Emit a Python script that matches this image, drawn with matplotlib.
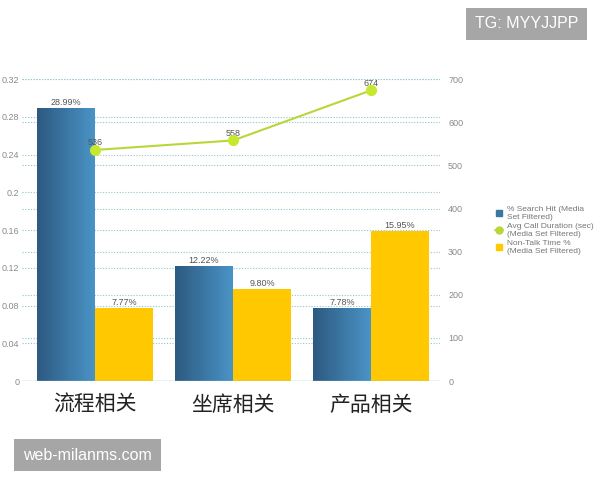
import matplotlib
matplotlib.use("Agg")
import matplotlib.pyplot as plt
import numpy as np

plt.rcParams['font.family'] = ['Liberation Sans', 'Noto Sans CJK SC', 'DejaVu Sans']

categories = ['流程相关', '坐席相关', '产品相关']
search_hit = [0.2899, 0.1222, 0.0778]
non_talk = [0.0777, 0.0980, 0.1595]
call_duration = [536, 558, 674]
left_ticks = [0, 0.04, 0.08, 0.12, 0.16, 0.2, 0.24, 0.28, 0.32]
left_labels = ['0', '0.04', '0.08', '0.12', '0.16', '0.2', '0.24', '0.28', '0.32']
right_ticks = [0, 100, 200, 300, 400, 500, 600, 700]
legend_labels = ['% Search Hit (Media\nSet Filtered)',
                 'Avg Call Duration (sec)\n(Media Set Filtered)',
                 'Non-Talk Time %\n(Media Set Filtered)']

fig = plt.figure(figsize=(6, 4.8), dpi=100)
ax = fig.add_axes([0.037, 0.206, 0.696, 0.629])
ax2 = ax.twinx()

x = np.arange(len(categories))
w = 0.42
grid_col = '#8fc7cf'
tick_col = '#8a8a8a'

blue_bars = ax.bar(x - w / 2, search_hit, w, color='#3b76a3', zorder=2)
yellow_bars = ax.bar(x + w / 2, non_talk, w, color='#ffc800', zorder=2)

# gradient on blue bars
grad = np.linspace(0, 1, 64).reshape(1, -1)
cmap = matplotlib.colors.LinearSegmentedColormap.from_list('b', ['#2d5a80', '#4a93c6'])
for b in blue_bars:
    x0, y0 = b.get_x(), b.get_y()
    im = ax.imshow(grad, extent=[x0, x0 + b.get_width(), y0, y0 + b.get_height()],
                   cmap=cmap, aspect='auto', zorder=2.1)
    im.set_clip_path(b)

for b, v in zip(blue_bars, search_hit):
    ax.text(b.get_x() + b.get_width() / 2, v + 0.001, f'{v*100:.2f}%',
            ha='center', va='bottom', fontsize=6.5, color='#555555', zorder=5)
for b, v in zip(yellow_bars, non_talk):
    ax.text(b.get_x() + b.get_width() / 2, v + 0.001, f'{v*100:.2f}%',
            ha='center', va='bottom', fontsize=6.5, color='#555555', zorder=5)

ax.set_xlim(-0.53, 2.5)
ax.set_ylim(0, 0.32)
ax.set_yticks(left_ticks)
ax.set_yticklabels(left_labels)
ax2.set_ylim(0, 700)
ax2.set_yticks(right_ticks)

# grid lines of both axes, drawn behind the bars
for t in left_ticks[1:]:
    ax.axhline(t, color=grid_col, lw=0.8, ls=(0, (1, 1.5)), zorder=1)
for t in right_ticks[1:]:
    ax.axhline(t / 700 * 0.32, color=grid_col, lw=0.8, ls=(0, (1, 1.5)), zorder=1)
ax.axhline(0, color=grid_col, lw=1, zorder=3)

ax.set_xticks(x)
ax.set_xticklabels(categories, fontsize=15, color='#222222')
ax.tick_params(axis='x', length=0, pad=10)
ax.tick_params(axis='y', length=0, labelsize=6.5, labelcolor=tick_col, pad=2)
ax2.tick_params(axis='y', length=0, labelsize=6.5, labelcolor=tick_col, pad=6)
for a in (ax, ax2):
    for s in a.spines.values():
        s.set_visible(False)

ax2.set_zorder(ax.get_zorder() + 1)
ax2.patch.set_visible(False)
line, = ax2.plot(x, call_duration, color='#b8d63a', lw=1.5, marker='o', ms=7,
                 markerfacecolor='#c6e82e', markeredgecolor='#c6e82e', zorder=4)
for xi, v in zip(x, call_duration):
    ax2.text(xi, v + 6, str(v), ha='center', va='bottom', fontsize=6.5, color='#555555')

# legend
handles = [plt.Line2D([], [], marker='s', ls='none', color='#3b76a3', ms=5),
           plt.Line2D([], [], marker='o', color='#b8d63a', ms=5, lw=1.2),
           plt.Line2D([], [], marker='s', ls='none', color='#ffc800', ms=5)]
fig.legend(handles, legend_labels, loc='center left', bbox_to_anchor=(0.812, 0.52),
           frameon=False, fontsize=6, labelcolor='#777777', handlelength=1,
           handletextpad=0.5, labelspacing=0.25)

# watermarks
fig.text(0.878, 0.95, 'TG: MYYJJPP', ha='center', va='center', fontsize=11.5, color='white',
         bbox=dict(boxstyle='square,pad=0.55', fc='#a6a6a6', ec='none'))
fig.text(0.146, 0.052, 'web-milanms.com', ha='center', va='center', fontsize=11.5, color='white',
         bbox=dict(boxstyle='square,pad=0.55', fc='#a6a6a6', ec='none'))

fig.savefig('out.png', dpi=100)
